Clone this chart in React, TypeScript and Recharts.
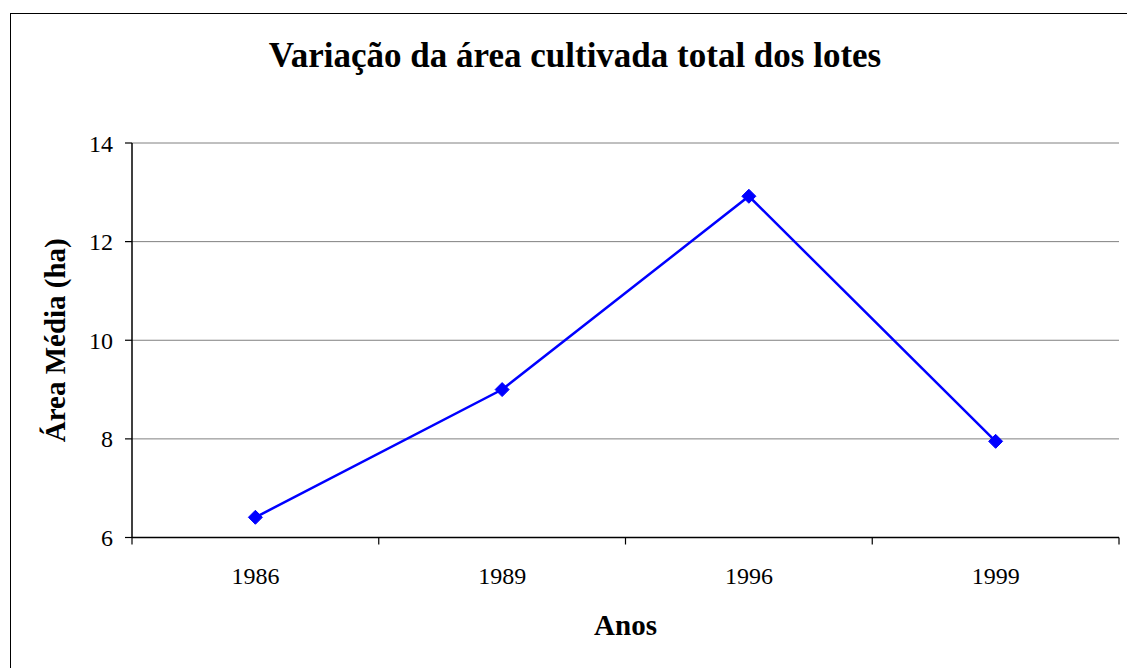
import { CartesianGrid, Line, LineChart, XAxis, YAxis } from 'recharts'

const years = ['1986', '1989', '1996', '1999']
const areaMedia = [6.41, 9.0, 12.92, 7.95]
const yTicks = [6, 8, 10, 12, 14]

const data = years.map((ano, i) => ({ ano, area: areaMedia[i] }))

const W = 1127
const H = 668
const PLOT_LEFT = 132
const PLOT_RIGHT = 1119
const BAND = (PLOT_RIGHT - PLOT_LEFT) / years.length
const FONT = '"Liberation Serif", "Times New Roman", serif'

function Diamond({ cx, cy }: { cx?: number; cy?: number }) {
  if (cx == null || cy == null) return null
  const r = 7
  return (
    <polygon
      points={`${cx},${cy - r} ${cx + r},${cy} ${cx},${cy + r} ${cx - r},${cy}`}
      fill="#0000ff"
      stroke="#0000ff"
    />
  )
}

function YearTick(props: any) {
  const { x, y, payload, index } = props
  const axisY = y - 7
  const left = x - BAND / 2
  const right = x + BAND / 2
  return (
    <g>
      <line x1={left} x2={left} y1={axisY} y2={axisY + 7} stroke="#000" strokeWidth={1.2} />
      {index === years.length - 1 && (
        <line x1={right} x2={right} y1={axisY} y2={axisY + 7} stroke="#000" strokeWidth={1.2} />
      )}
      <text x={x} y={axisY + 46.5} textAnchor="middle" fontSize={24} fontFamily={FONT} fill="#000">
        {payload.value}
      </text>
    </g>
  )
}

export default function App() {
  return (
    <div style={{ position: 'absolute', left: 0, top: 0, width: W, height: H, overflow: 'hidden', background: '#fff' }}>
      <div
        style={{
          position: 'absolute',
          left: 10,
          top: 13,
          width: W,
          height: H,
          border: '1.5px solid #000',
          boxSizing: 'border-box',
        }}
      />
      <svg style={{ position: 'absolute', left: 0, top: 0 }} width={W} height={100}>
        <text x={575} y={67} textAnchor="middle" fontSize={35} fontWeight="bold" fontFamily={FONT} fill="#000">
          Variação da área cultivada total dos lotes
        </text>
      </svg>
      <div style={{ position: 'absolute', left: 0, top: 0 }}>
        <LineChart width={W} height={H} data={data} margin={{ top: 143, right: 8, bottom: 0, left: 0 }}>
          <CartesianGrid vertical={false} stroke="#808080" strokeWidth={1} />
          <XAxis
            dataKey="ano"
            scale="band"
            height={130.5}
            tickLine={false}
            tickSize={7}
            tickMargin={0}
            axisLine={{ stroke: '#000', strokeWidth: 1.5 }}
            tick={<YearTick />}
            interval={0}
            label={{
              content: ({ viewBox }: any) => (
                <text
                  x={viewBox.x + viewBox.width / 2}
                  y={viewBox.y + 97.5}
                  textAnchor="middle"
                  fontSize={29}
                  fontWeight="bold"
                  fontFamily={FONT}
                  fill="#000"
                >
                  Anos
                </text>
              ),
            }}
          />
          <YAxis
            domain={[6, 14]}
            ticks={yTicks}
            width={132}
            tickSize={7}
            tickMargin={12}
            tickLine={{ stroke: '#000', strokeWidth: 1.2 }}
            axisLine={{ stroke: '#000', strokeWidth: 1.5 }}
            tick={{ fill: '#000', fontSize: 24, fontFamily: FONT }}
            label={{
              content: ({ viewBox }: any) => {
                const cx = 65
                const cy = viewBox.y + viewBox.height / 2
                return (
                  <text
                    x={cx}
                    y={cy}
                    transform={`rotate(-90 ${cx} ${cy})`}
                    textAnchor="middle"
                    fontSize={29}
                    fontWeight="bold"
                    fontFamily={FONT}
                    fill="#000"
                  >
                    Área Média (ha)
                  </text>
                )
              },
            }}
          />
          <YAxis
            yAxisId="frame"
            orientation="right"
            width={0}
            tick={false}
            tickLine={false}
            axisLine={{ stroke: '#808080', strokeWidth: 1.5 }}
          />
          <Line
            dataKey="area"
            stroke="#0000ff"
            strokeWidth={2.5}
            dot={<Diamond />}
            activeDot={false}
            isAnimationActive={false}
          />
        </LineChart>
      </div>
    </div>
  )
}
